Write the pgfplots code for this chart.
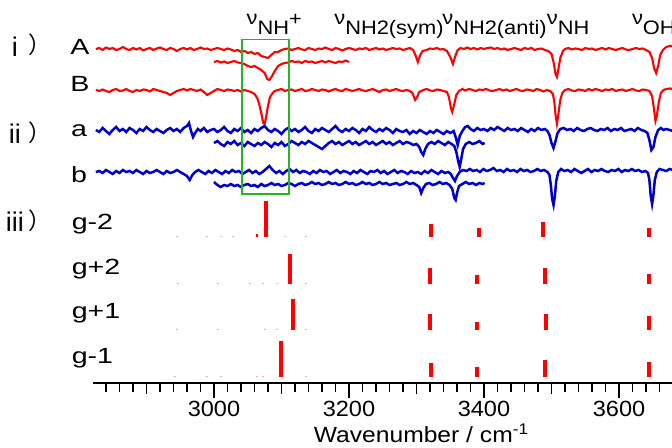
\documentclass[border=0pt]{standalone}
\usepackage{pgfplots}
\pgfplotsset{compat=1.18}
\usepackage{fontspec}
\setmainfont{Liberation Sans}[FakeStretch=1.07]
\newfontfamily\wideA{Liberation Sans}[FakeStretch=1.3]
\newfontfamily\wideB{Liberation Sans}[FakeStretch=1.12]
\newfontfamily\plainf{Liberation Sans}
\newfontfamily\cjk{Noto Sans CJK JP}
\definecolor{myred}{RGB}{255,0,0}
\definecolor{myblue}{RGB}{0,0,205}
\definecolor{mygreen}{RGB}{40,180,40}
\begin{document}
\begin{tikzpicture}
\begin{axis}[
  x=0.675pt, y=1pt,
  xmin=2821, xmax=3678, ymin=-383, ymax=0,
  axis x line=bottom, axis y line=none,
  x axis line style={-, line width=1.8pt},
  clip=false,
  xtick={3000,3200,3400,3600},
  minor xtick={2840,2860,...,3660},
  extra x ticks={2900,3100,3300,3500},
  extra x tick labels={},
  extra x tick style={major tick length=11pt},
  tick align=outside,
  major tick length=15pt, minor tick length=9pt,
  every tick/.style={line width=1.4pt, black},
  xticklabel style={font=\fontsize{22}{22}\selectfont},
  /pgf/number format/assume math mode=true,
  /pgf/number format/1000 sep={},
  unbounded coords=jump,
]
\coordinate (bbl) at (axis cs:2683,-447);
\coordinate (btr) at (axis cs:3678.5,0);

% ---- trace A (long)
\addplot[myred, line width=2.1pt] coordinates {
(2825,-49)(2830,-48)(2835,-50)(2840,-47.5)(2845,-49)(2850,-48)(2855,-50)(2860,-49)(2865,-47)(2870,-49)
(2875,-50)(2880,-48)(2885,-49.5)(2890,-48)(2895,-50.5)(2900,-49)(2905,-48)(2910,-50)(2915,-48.5)(2920,-47.5)
(2925,-49)(2930,-50)(2935,-48)(2940,-49)(2945,-51)(2950,-49)(2955,-48)(2960,-49.5)(2965,-48)(2970,-50)
(2975,-49)(2980,-47.5)(2985,-49)(2990,-48.5)(2995,-50)(3000,-49)(3005,-48)(3010,-49)(3015,-50)(3020,-48.5)
(3025,-49.5)(3030,-51)(3035,-50)(3040,-52)(3045,-51)(3050,-53)(3055,-52)(3060,-54)(3065,-53)(3070,-56)
(3075,-57)(3080,-58)(3085,-55)(3090,-52)(3095,-52)(3100,-50)(3105,-49)(3110,-48.5)(3115,-50)(3120,-49)
(3125,-48)(3130,-49.5)(3135,-50)(3140,-48)(3145,-49)(3150,-50)(3155,-48.5)(3160,-49)(3165,-47.5)(3170,-49)
(3175,-50)(3180,-48)(3185,-49)(3190,-50.5)(3195,-49)(3200,-48)(3205,-49)(3210,-50)(3215,-48.5)(3220,-49)
(3225,-48)(3230,-50)(3235,-49)(3240,-48)(3245,-49.5)(3250,-48.5)(3255,-50)(3260,-49)(3265,-48)(3270,-49)
(3275,-48.5)(3280,-50)(3285,-49)(3290,-48)(3295,-50)(3299,-56)(3302,-62)(3305,-56)(3309,-51)(3315,-50)
(3320,-48.5)(3325,-49)(3330,-48)(3335,-49.5)(3340,-49)(3345,-51)(3350,-57)(3354,-64)(3357,-57)(3361,-50)
(3365,-48)(3370,-49)(3375,-47.5)(3380,-49)(3385,-48)(3390,-49.5)(3395,-48)(3400,-49)(3405,-48)(3410,-47.5)
(3415,-49)(3420,-48)(3425,-49.5)(3430,-48.5)(3435,-50)(3440,-49)(3445,-48)(3450,-49)(3455,-50)(3460,-48)
(3465,-49)(3470,-48)(3475,-50)(3480,-49)(3485,-48.5)(3490,-50)(3495,-51)(3500,-54)(3503,-62)(3506,-74)
(3508,-77)(3510,-70)(3513,-58)(3517,-51)(3520,-49)(3525,-48)(3530,-49.5)(3535,-48.5)(3540,-49)(3545,-50)
(3550,-48)(3555,-49)(3560,-48.5)(3565,-50)(3570,-49)(3575,-48)(3580,-49.5)(3585,-48)(3590,-49)(3595,-50)
(3600,-49)(3605,-48)(3610,-49.5)(3615,-50)(3620,-49)(3625,-48)(3630,-49)(3635,-48.5)(3640,-50)(3645,-52)
(3649,-58)(3652,-68)(3655,-73)(3658,-66)(3661,-55)(3665,-50)(3670,-47)(3675,-46)(3680,-46)
};
% ---- trace A (short)
\addplot[myred, line width=2.1pt] coordinates {
(3000,-62)(3005,-61)(3010,-62.5)(3015,-61.5)(3020,-63)(3025,-62)(3030,-61)(3035,-62.5)(3040,-63)(3045,-64)
(3050,-66)(3055,-67)(3060,-66)(3065,-68)(3070,-70)(3075,-73)(3079,-79)(3082,-80)(3086,-76)(3090,-71)
(3095,-66)(3100,-64)(3105,-63)(3110,-62.5)(3115,-61)(3120,-62)(3125,-61.5)(3130,-63)(3135,-61)(3140,-62)
(3145,-61.5)(3150,-63)(3155,-62)(3160,-61)(3165,-62.5)(3170,-61)(3175,-62)(3180,-63)(3185,-61.5)(3190,-62)
(3195,-60.5)(3200,-62)
};
% ---- trace B
\addplot[myred, line width=2.1pt] coordinates {
(2825,-90)(2830,-91)(2835,-89.5)(2840,-91)(2845,-92)(2850,-90)(2855,-89)(2860,-91)(2865,-90.5)(2870,-89)
(2875,-91)(2880,-92)(2885,-90)(2890,-91)(2895,-89.5)(2900,-90)(2905,-91.5)(2910,-89)(2915,-90)(2920,-91)
(2925,-92)(2930,-93)(2935,-95)(2940,-93)(2945,-91)(2950,-90)(2955,-89)(2960,-90.5)(2965,-89)(2970,-90)
(2975,-91)(2980,-89.5)(2985,-92)(2990,-95)(2995,-93)(3000,-91)(3005,-89)(3010,-90)(3015,-91)(3020,-89.5)
(3025,-90)(3030,-91)(3035,-90)(3040,-91.5)(3045,-90)(3050,-91)(3055,-92)(3060,-94)(3064,-98)(3067,-104)
(3070,-113)(3073,-123)(3075,-124)(3077,-118)(3080,-106)(3083,-97)(3087,-93)(3090,-91)(3095,-90)(3100,-89)
(3105,-91)(3110,-90)(3115,-89.5)(3120,-91)(3125,-90)(3130,-89)(3135,-91)(3140,-90.5)(3145,-89)(3150,-90)
(3155,-91)(3160,-89.5)(3165,-90)(3170,-91.5)(3175,-90)(3180,-89)(3185,-90.5)(3190,-91)(3195,-89)(3200,-90)
(3205,-91)(3210,-90)(3215,-89)(3220,-90.5)(3225,-91)(3230,-90)(3235,-89)(3240,-90.5)(3245,-92)(3250,-90)
(3255,-89.5)(3260,-91)(3265,-90)(3270,-89)(3275,-90.5)(3280,-91)(3285,-90)(3290,-91)(3294,-93)(3298,-100)
(3301,-97)(3304,-92)(3310,-90)(3315,-89)(3320,-90.5)(3325,-91)(3330,-89.5)(3335,-90)(3340,-91)(3345,-92)
(3348,-97)(3351,-108)(3353,-112)(3356,-104)(3359,-95)(3363,-91)(3368,-89)(3372,-90.5)(3378,-89)(3383,-90)
(3388,-91)(3393,-89.5)(3398,-90)(3403,-89)(3408,-90.5)(3413,-91)(3418,-90)(3423,-89)(3428,-90.5)(3433,-89.5)
(3438,-91)(3443,-90)(3448,-89)(3453,-90.5)(3458,-91)(3463,-89.5)(3468,-90)(3473,-91)(3478,-89)(3483,-90)
(3488,-91.5)(3493,-90)(3498,-91)(3502,-94)(3504,-101)(3506,-115)(3508,-124)(3510,-115)(3513,-100)(3516,-93)
(3520,-90)(3525,-89)(3530,-90.5)(3535,-91)(3540,-89.5)(3545,-90)(3550,-91)(3555,-89)(3560,-90.5)(3565,-89)
(3570,-90)(3575,-91)(3580,-89.5)(3585,-90)(3590,-89)(3595,-91)(3600,-90)(3605,-89.5)(3610,-91)(3615,-90)
(3620,-89)(3625,-90.5)(3630,-91)(3635,-89.5)(3640,-90)(3645,-91)(3649,-96)(3652,-110)(3654,-121)(3656,-116)
(3659,-102)(3662,-93)(3666,-90)(3670,-89)(3675,-88.5)(3680,-89)
};
% ---- trace a (long)
\addplot[myblue, line width=2.5pt] coordinates {
(2825,-130)(2830,-132)(2835,-128)(2840,-131)(2845,-134)(2850,-130)(2855,-127)(2860,-131)(2865,-129)(2870,-132)
(2875,-128)(2880,-130)(2885,-133)(2890,-129)(2895,-131)(2900,-127)(2905,-130)(2910,-132)(2915,-129)(2920,-131)
(2925,-133)(2930,-130)(2935,-128)(2940,-131)(2945,-129)(2950,-132)(2955,-128)(2960,-126)(2963,-123)(2966,-131)
(2969,-137)(2972,-133)(2976,-129)(2980,-131)(2985,-128)(2990,-132)(2995,-130)(3000,-129)(3005,-132)(3010,-130)
(3015,-127)(3020,-131)(3025,-133)(3030,-129)(3035,-131)(3040,-128)(3045,-132)(3050,-130)(3055,-133)(3060,-129)
(3065,-131)(3070,-128)(3075,-126)(3080,-130)(3085,-132)(3090,-129)(3095,-131)(3100,-134)(3105,-130)(3110,-128)
(3115,-131)(3120,-129)(3125,-132)(3130,-130)(3135,-127)(3140,-131)(3145,-133)(3150,-129)(3155,-131)(3160,-128)
(3165,-130)(3170,-132)(3175,-129)(3180,-126)(3185,-130)(3190,-132)(3195,-129)(3200,-131)(3205,-128)(3210,-130)
(3215,-133)(3220,-129)(3225,-131)(3230,-127)(3235,-130)(3240,-132)(3245,-129)(3250,-131)(3255,-128)(3260,-130)
(3265,-133)(3270,-129)(3275,-131)(3280,-132)(3285,-130)(3290,-134)(3295,-131)(3300,-133)(3305,-130)(3310,-132)
(3315,-134)(3320,-131)(3325,-133)(3330,-130)(3335,-132)(3340,-134)(3345,-131)(3350,-133)(3355,-131)(3358,-137)
(3361,-145)(3364,-136)(3368,-131)(3372,-127)(3376,-126)(3380,-129)(3385,-131)(3390,-128)(3395,-130)(3400,-129)
(3405,-131)(3410,-128)(3415,-130)(3420,-127)(3425,-129)(3430,-131)(3435,-128)(3440,-130)(3445,-129)(3450,-131)
(3455,-128)(3460,-130)(3465,-132)(3470,-129)(3475,-131)(3480,-128)(3485,-130)(3490,-129)(3494,-131)(3497,-135)
(3500,-143)(3503,-148)(3506,-141)(3509,-133)(3513,-129)(3518,-128)(3523,-130)(3528,-129)(3533,-131)(3538,-128)
(3543,-130)(3548,-131)(3553,-129)(3558,-128)(3563,-130)(3568,-131)(3573,-129)(3578,-130)(3583,-128)(3588,-131)
(3593,-129)(3598,-130)(3603,-128)(3608,-131)(3613,-130)(3618,-129)(3623,-131)(3628,-128)(3633,-130)(3638,-131)
(3642,-133)(3645,-140)(3648,-150)(3651,-147)(3654,-137)(3658,-130)(3662,-128)(3666,-130)(3670,-129)(3675,-130)
(3680,-131)
};
% ---- trace a (short)
\addplot[myblue, line width=2.5pt] coordinates {
(3000,-143)(3005,-141)(3010,-144)(3015,-146)(3020,-142)(3025,-144)(3030,-141)(3035,-145)(3040,-143)(3045,-146)
(3050,-142)(3055,-144)(3060,-146)(3065,-143)(3070,-145)(3075,-142)(3080,-144)(3085,-147)(3090,-143)(3095,-145)
(3100,-142)(3105,-146)(3110,-144)(3115,-141)(3120,-143)(3125,-145)(3130,-142)(3135,-144)(3140,-141)(3145,-143)
(3150,-145)(3155,-147)(3160,-149)(3165,-146)(3170,-143)(3175,-141)(3180,-144)(3185,-142)(3190,-145)(3195,-143)
(3200,-141)(3205,-144)(3210,-142)(3215,-145)(3220,-143)(3225,-141)(3230,-144)(3235,-142)(3240,-145)(3245,-143)
(3250,-141)(3255,-144)(3260,-142)(3265,-145)(3270,-143)(3275,-141)(3280,-144)(3285,-142)(3290,-143)(3295,-145)
(3300,-144)(3304,-147)(3307,-152)(3310,-155)(3313,-149)(3317,-144)(3322,-142)(3327,-144)(3332,-141)(3337,-143)
(3342,-145)(3347,-142)(3352,-144)(3356,-146)(3359,-152)(3362,-162)(3364,-167)(3366,-160)(3369,-149)(3373,-144)
(3378,-142)(3383,-144)(3388,-143)(3393,-141)(3398,-144)(3401,-143)
};
% ---- trace b (long)
\addplot[myblue, line width=2.5pt] coordinates {
(2825,-172)(2830,-171)(2835,-173)(2840,-170)(2845,-172)(2850,-174)(2855,-171)(2860,-173)(2865,-170)(2870,-172)
(2875,-171)(2880,-173)(2885,-170)(2890,-172)(2895,-174)(2900,-171)(2905,-173)(2910,-172)(2915,-170)(2920,-172)
(2925,-174)(2930,-171)(2935,-173)(2940,-172)(2945,-170)(2950,-172)(2955,-174)(2960,-176)(2964,-180)(2968,-175)
(2972,-172)(2977,-170)(2982,-172)(2987,-174)(2992,-171)(2997,-173)(3002,-170)(3007,-172)(3012,-174)(3017,-171)
(3022,-173)(3027,-170)(3032,-172)(3037,-171)(3042,-174)(3047,-172)(3052,-170)(3057,-173)(3062,-171)(3067,-174)
(3072,-172)(3077,-169)(3082,-166)(3087,-170)(3092,-173)(3097,-171)(3102,-174)(3107,-171)(3112,-169)(3117,-172)
(3122,-170)(3127,-173)(3132,-171)(3137,-172)(3142,-174)(3147,-171)(3152,-173)(3157,-170)(3162,-172)(3167,-171)
(3172,-174)(3177,-172)(3182,-170)(3187,-173)(3192,-171)(3197,-172)(3202,-174)(3207,-171)(3212,-173)(3217,-170)
(3222,-172)(3227,-174)(3232,-171)(3237,-172)(3242,-170)(3247,-173)(3252,-171)(3257,-174)(3262,-172)(3267,-170)
(3272,-173)(3277,-171)(3282,-172)(3287,-174)(3292,-171)(3297,-173)(3302,-172)(3307,-174)(3312,-171)(3317,-173)
(3322,-170)(3327,-172)(3332,-174)(3337,-171)(3342,-173)(3347,-172)(3351,-174)(3354,-178)(3357,-181)(3360,-176)
(3364,-172)(3369,-170)(3374,-171)(3379,-169)(3384,-171)(3389,-170)(3394,-172)(3399,-169)(3404,-171)(3409,-170)
(3414,-168)(3419,-171)(3424,-170)(3429,-172)(3434,-169)(3439,-171)(3444,-170)(3449,-172)(3454,-169)(3459,-171)
(3464,-170)(3469,-172)(3474,-171)(3479,-169)(3484,-171)(3489,-170)(3494,-172)(3497,-175)(3499,-185)(3501,-199)
(3503,-205)(3505,-196)(3507,-181)(3510,-172)(3514,-169)(3519,-171)(3524,-170)(3529,-172)(3534,-169)(3539,-171)
(3544,-173)(3549,-171)(3554,-169)(3559,-172)(3564,-170)(3569,-171)(3574,-169)(3579,-171)(3584,-172)(3589,-170)
(3594,-171)(3599,-169)(3604,-172)(3609,-170)(3614,-171)(3619,-169)(3624,-171)(3629,-170)(3634,-172)(3639,-171)
(3643,-173)(3645,-180)(3647,-196)(3649,-204)(3651,-195)(3653,-180)(3656,-172)(3660,-169)(3665,-170)(3670,-171)
(3675,-169)(3680,-170)
};
% ---- trace b (short)
\addplot[myblue, line width=2.5pt] coordinates {
(3000,-182)(3005,-185)(3010,-187)(3015,-185)(3020,-186)(3025,-184)(3030,-186)(3035,-185)(3040,-187)(3045,-185)
(3050,-184)(3055,-186)(3060,-185)(3065,-187)(3070,-184)(3075,-186)(3080,-185)(3085,-183)(3090,-185)(3095,-184)
(3100,-186)(3105,-185)(3110,-183)(3115,-184)(3120,-186)(3125,-184)(3130,-183)(3135,-185)(3140,-184)(3145,-182)
(3150,-184)(3155,-183)(3160,-185)(3165,-184)(3170,-182)(3175,-184)(3180,-183)(3185,-185)(3190,-184)(3195,-182)
(3200,-184)(3205,-183)(3210,-185)(3215,-184)(3220,-182)(3225,-184)(3230,-183)(3235,-185)(3240,-184)(3245,-182)
(3250,-184)(3255,-183)(3260,-185)(3265,-184)(3270,-183)(3275,-185)(3280,-184)(3285,-182)(3290,-184)(3295,-183)
(3300,-185)(3304,-187)(3307,-193)(3310,-188)(3314,-184)(3319,-183)(3324,-185)(3329,-184)(3334,-182)(3339,-184)
(3344,-183)(3349,-185)(3353,-189)(3356,-198)(3358,-200)(3360,-193)(3363,-186)(3368,-184)(3373,-182)(3378,-184)
(3383,-183)(3388,-185)(3393,-183)(3398,-184)(3401,-183)
};
% ---- green box
\addplot[mygreen, line width=1.8pt] coordinates {(3041,-39.5)(3111,-39.5)(3111,-194)(3041,-194)} -- cycle;

% ---- calculated sticks (tiny ones)
\addplot[red!35, line width=2pt] coordinates {
(2945,-237)(2945,-235.5)(2945,nan)(2989,-237)(2989,-235.5)(2989,nan)(3011,-237)(3011,-235.5)(3011,nan)
(3028,-237)(3028,-235.5)(3028,nan)(3105,-237)(3105,-235.5)(3105,nan)(3137,-237)(3137,-235.5)(3137,nan)
(2947,-284)(2947,-282.5)(2947,nan)(3006,-284)(3006,-282.5)(3006,nan)(3053,-284)(3053,-282.5)(3053,nan)
(3073,-284)(3073,-282.5)(3073,nan)(3093,-284)(3093,-282.5)(3093,nan)(3136,-284)(3136,-282.5)(3136,nan)
(2945,-330)(2945,-328.5)(2945,nan)(3006,-330)(3006,-328.5)(3006,nan)(3075,-330)(3075,-328.5)(3075,nan)
(3093,-330)(3093,-328.5)(3093,nan)(3136,-330)(3136,-328.5)(3136,nan)
(2942,-377)(2942,-375.5)(2942,nan)(2989,-377)(2989,-375.5)(2989,nan)(3011,-377)(3011,-375.5)(3011,nan)
(3063,-377)(3063,-375.5)(3063,nan)(3073,-377)(3073,-375.5)(3073,nan)(3136,-377)(3136,-375.5)(3136,nan)
};
\addplot[myred, line width=2pt] coordinates {(3063,-237)(3063,-234)};
% ---- calculated sticks (main)
\addplot[myred, line width=4pt] coordinates {
(3077,-237)(3077,-201)(3077,nan)(3322,-237)(3322,-224)(3322,nan)(3393,-237)(3393,-228)(3393,nan)
(3488,-237)(3488,-222)(3488,nan)(3645,-237)(3645,-228)(3645,nan)
(3113,-284)(3113,-254)(3113,nan)(3320,-284)(3320,-268)(3320,nan)(3389,-284)(3389,-275)(3389,nan)
(3490,-284)(3490,-268)(3490,nan)(3644,-284)(3644,-274)(3644,nan)
(3117,-330)(3117,-299)(3117,nan)(3320,-330)(3320,-314)(3320,nan)(3389,-330)(3389,-322)(3389,nan)
(3492,-330)(3492,-314)(3492,nan)(3644,-330)(3644,-316)(3644,nan)
(3099,-377)(3099,-341)(3099,nan)(3321,-377)(3321,-363)(3321,nan)(3390,-377)(3390,-367)(3390,nan)
(3490,-377)(3490,-360)(3490,nan)(3644,-377)(3644,-362)(3644,nan)
};

% ---- left labels
\node[anchor=base, font=\plainf\fontsize{27}{27}\selectfont, inner sep=0pt] at (axis cs:2705,-56.5) {i};
\node[anchor=base, font=\plainf\fontsize{27}{27}\selectfont, inner sep=0pt] at (axis cs:2705,-143) {ii};
\node[anchor=base, font=\plainf\fontsize{27}{27}\selectfont, inner sep=0pt] at (axis cs:2705,-231) {iii};
\node[anchor=base west, font=\cjk\fontsize{23}{23}\selectfont, inner sep=0pt] at (axis cs:2725,-54) {）};
\node[anchor=base west, font=\cjk\fontsize{23}{23}\selectfont, inner sep=0pt] at (axis cs:2725,-141) {）};
\node[anchor=base west, font=\cjk\fontsize{23}{23}\selectfont, inner sep=0pt] at (axis cs:2725,-229) {）};

\node[anchor=base west, font=\wideA\fontsize{22}{22}\selectfont, inner sep=0pt] at (axis cs:2787,-55) {A};
\node[anchor=base west, font=\wideA\fontsize{22}{22}\selectfont, inner sep=0pt] at (axis cs:2787,-91.7) {B};
\node[anchor=base west, font=\wideA\fontsize{22}{22}\selectfont, inner sep=0pt] at (axis cs:2788,-136.7) {a};
\node[anchor=base west, font=\wideA\fontsize{22}{22}\selectfont, inner sep=0pt] at (axis cs:2788,-182.7) {b};
\node[anchor=base west, font=\wideA\fontsize{22}{22}\selectfont, inner sep=0pt] at (axis cs:2789,-229) {g-2};
\node[anchor=base west, font=\wideA\fontsize{22}{22}\selectfont, inner sep=0pt] at (axis cs:2789,-274) {g+2};
\node[anchor=base west, font=\wideA\fontsize{22}{22}\selectfont, inner sep=0pt] at (axis cs:2789,-318.3) {g+1};
\node[anchor=base west, font=\wideA\fontsize{22}{22}\selectfont, inner sep=0pt] at (axis cs:2789,-363.3) {g-1};

% ---- band labels
\node[anchor=base west, font=\wideB\fontsize{19.5}{19.5}\selectfont, inner sep=0pt] at (axis cs:3048,-35) {\raisebox{10pt}{ν}NH\raisebox{9.5pt}{+}};
\node[anchor=base west, font=\wideB\fontsize{19.5}{19.5}\selectfont, inner sep=0pt] at (axis cs:3178,-35) {\raisebox{10pt}{ν}NH2(sym)};
\node[anchor=base west, font=\wideB\fontsize{19.5}{19.5}\selectfont, inner sep=0pt] at (axis cs:3338,-35) {\raisebox{10pt}{ν}NH2(anti)};
\node[anchor=base west, font=\wideB\fontsize{19.5}{19.5}\selectfont, inner sep=0pt] at (axis cs:3493,-35) {\raisebox{10pt}{ν}NH};
\node[anchor=base west, font=\wideB\fontsize{19.5}{19.5}\selectfont, inner sep=0pt] at (axis cs:3619,-35) {\raisebox{10pt}{ν}OH};

% ---- x label
\node[anchor=base, font=\wideB\fontsize{22}{22}\selectfont, inner sep=0pt] at (axis cs:3307,-442) {Wavenumber / cm\textsuperscript{-1}};
\end{axis}
\pgfresetboundingbox
\useasboundingbox (bbl) rectangle (btr);
\end{tikzpicture}
\end{document}
